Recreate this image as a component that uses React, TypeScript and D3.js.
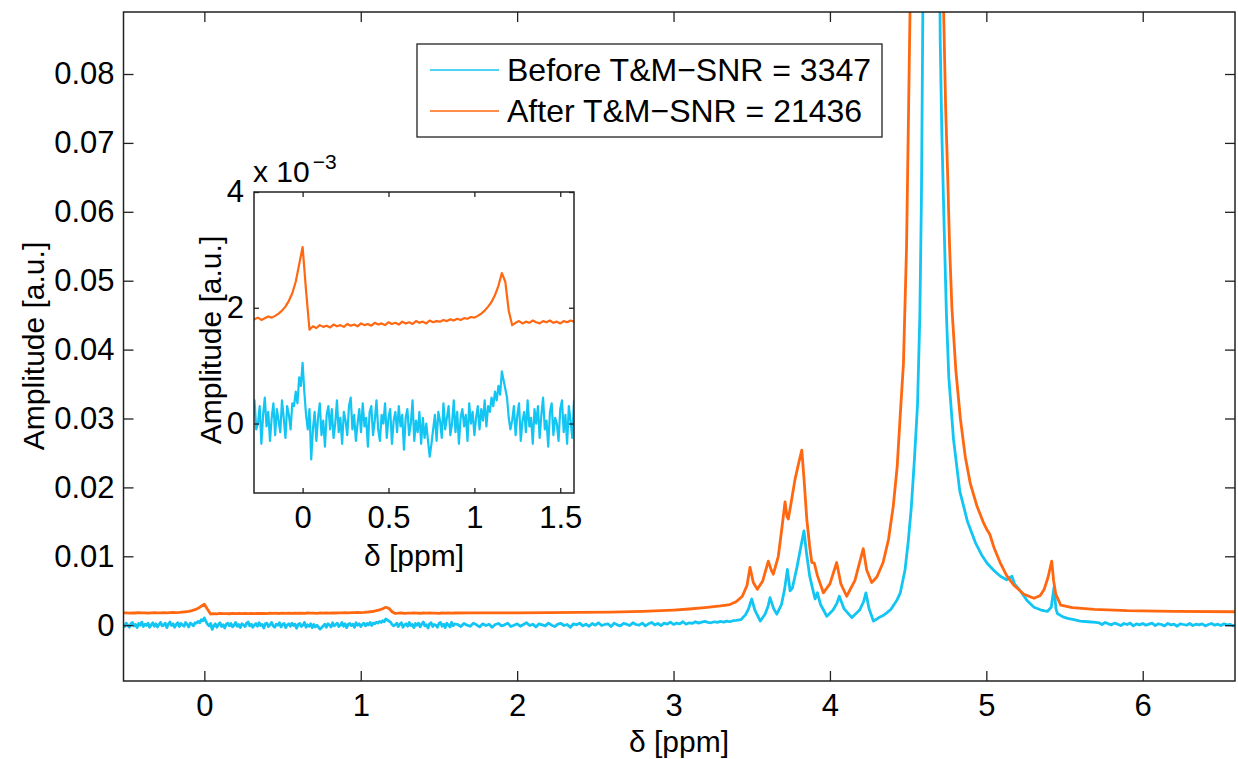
import React, { useEffect, useRef } from 'react'
import * as d3 from 'd3'

// spectra values are in units of 1e-3 a.u., x in ppm
const beforeLowStart = -0.52
const beforeLowStep = 0.01
const beforeLow = [
  0.1, -0.2, 0.3, 0.0, -0.3, 0.2, 0.4, -0.1, 0.1, -0.35, 0.25, 0.0, 0.45, -0.2, 0.15, -0.05,
  0.3, -0.3, 0.05, 0.35, -0.15, 0.2, -0.25, 0.1, 0.4, -0.1, 0.0, 0.3, -0.35, 0.15, 0.45, -0.05,
  0.2, -0.3, 0.1, 0.35, -0.2, 0.25, 0.05, -0.15, 0.4, 0.1, -0.25, 0.3, 0.15, -0.1, 0.35,
  0.3, 0.55, 0.35, 0.8, 0.65, 1.05,
  0.55, 0.15, -0.1, 0.25, -0.62, -0.1,
  0.2, -0.3, 0.1, 0.35, -0.2, 0.05, -0.4, 0.15, 0.3, -0.1,
  0.25, -0.25, 0.0, 0.4, -0.15, 0.1, -0.35, 0.2, 0.05, -0.2,
  0.3, 0.45, -0.1, 0.15, -0.3, 0.0, 0.25, -0.15, 0.35, -0.05,
  0.1, -0.4, 0.2, 0.3, -0.2, 0.05, 0.4, -0.1, -0.3, 0.15,
  0.0, 0.35, -0.25, 0.1, 0.25, -0.35, 0.05, 0.2, -0.15, 0.3,
  -0.05, 0.15, -0.45, 0.1, 0.25, -0.2, 0.0, 0.4, -0.3, 0.05,
  -0.15, 0.2, -0.35, 0.1, -0.25, 0.0, -0.3,
  -0.57,
  -0.35, -0.1, 0.15, -0.3, 0.2, 0.05, -0.25, 0.35, -0.1, 0.1,
  0.3, -0.2, 0.0, 0.4, -0.15, 0.2, -0.35, 0.1, 0.25, -0.05,
  0.15, -0.3, 0.35, 0.0, 0.2, -0.2, 0.1, 0.3, -0.1, 0.25,
  0.05, 0.4, -0.05, 0.3,
  0.2, 0.45, 0.3, 0.55, 0.4, 0.65, 0.5, 0.9, 0.75,
  0.6, 0.45, 0.1, -0.1, 0.05,
  0.3, -0.2, 0.15, 0.35, -0.3, 0.05, 0.2, -0.15, 0.4, -0.05,
  0.1, -0.35, 0.25, 0.0, 0.3, -0.25, 0.15, 0.45, -0.1, 0.05,
  -0.4, 0.2, 0.35, -0.2, 0.1, 0.0, -0.3, 0.25, 0.4, -0.15,
  0.15, -0.35, 0.3, 0.05, -0.25, 0.4, -0.1, 0.2,
]

const beforeMidStart = 1.62
const beforeMidStep = 0.02
const beforeMid = [
  0.1, -0.2, 0.25, 0.0, -0.15, 0.3, 0.05, -0.25, 0.2, -0.05,
  0.15, -0.3, 0.1, 0.25, -0.1, 0.05, 0.3, -0.2, 0.0, 0.2,
  -0.15, 0.1, 0.35, -0.05, 0.15, -0.25, 0.2, 0.05, -0.1, 0.3,
  0.0, -0.2, 0.15, 0.25, -0.05, 0.1, -0.3, 0.2, 0.05, 0.3,
  -0.1, 0.15, -0.15, 0.25, 0.0, 0.35, -0.05, 0.1, 0.2, -0.2,
  0.3, 0.05, -0.1, 0.25, 0.15, -0.05, 0.35, 0.1, 0.0, 0.3,
  -0.1, 0.2, 0.4, 0.05, 0.25, -0.05, 0.3, 0.15, 0.45, 0.1,
  0.3, 0.2, 0.5, 0.15, 0.35, 0.25, 0.5, 0.3, 0.45, 0.55,
  0.4, 0.35, 0.5, 0.4, 0.55, 0.45, 0.6, 0.5, 0.65, 0.7,
]

const beforePeaks = [
  [3.43, 0.8], [3.46, 1.5], [3.48, 2.4], [3.5, 3.8], [3.52, 2.2], [3.555, 0.6], [3.585, 1.6],
  [3.605, 2.8], [3.617, 4.0], [3.64, 2.4], [3.66, 1.6], [3.69, 3.0], [3.71, 5.2], [3.728, 8.1],
  [3.745, 5.0], [3.76, 5.4], [3.79, 8.5], [3.815, 11.5], [3.834, 13.7], [3.85, 10.5], [3.87, 7.2],
  [3.885, 5.7], [3.905, 3.8], [3.92, 4.7], [3.94, 3.0], [3.98, 1.3], [4.02, 2.2], [4.045, 3.2],
  [4.06, 4.2], [4.09, 2.4], [4.14, 1.1], [4.19, 2.2], [4.215, 3.4], [4.23, 4.7], [4.25, 2.4],
  [4.278, 0.6], [4.3, 0.9], [4.32, 1.2], [4.34, 1.4], [4.363, 1.8], [4.39, 2.3], [4.41, 3.0],
  [4.43, 3.7], [4.45, 4.7], [4.48, 8.0], [4.5, 12.0],
  [4.52, 17.0], [4.54, 24.0], [4.56, 32.0], [4.575, 45.0], [4.585, 62.0], [4.595, 92.0],
  [4.61, 160.0], [4.65, 220.0], [4.69, 160.0], [4.7, 100.0], [4.705, 85.0], [4.715, 72.0],
  [4.73, 58.0], [4.745, 45.0], [4.76, 36.0], [4.79, 27.0], [4.83, 19.5], [4.88, 15.0],
  [4.93, 12.0], [4.97, 10.2], [5.005, 9.0], [5.05, 7.9], [5.09, 7.1], [5.13, 6.6], [5.164, 7.1],
  [5.18, 6.0], [5.22, 4.9], [5.26, 3.6], [5.305, 2.6], [5.35, 2.2], [5.39, 2.0], [5.415, 2.6],
  [5.433, 5.5], [5.445, 2.4], [5.454, 1.7], [5.49, 1.2], [5.52, 1.0], [5.56, 0.8], [5.6, 0.6],
  [5.65, 0.5], [5.7, 0.4],
]

const beforeHighStart = 5.72
const beforeHighStep = 0.02
const beforeHigh = [
  0.35, 0.1, 0.4, 0.2, 0.05, 0.3, 0.15, -0.05, 0.25, 0.1,
  0.3, -0.1, 0.2, 0.05, 0.25, 0.0, 0.15, 0.3, -0.05, 0.2,
  0.1, -0.1, 0.25, 0.05, 0.15, -0.15, 0.2, 0.1, 0.0, 0.25,
  -0.05, 0.15, 0.05, 0.2, -0.1, 0.1, 0.25, 0.0, 0.15, -0.05,
  0.2, 0.05, 0.1, -0.1, 0.15,
]

const afterLowStart = -0.52
const afterLowStep = 0.02
const afterLow = [
  1.78, 1.8, 1.76, 1.79, 1.77, 1.81, 1.78, 1.8, 1.76, 1.79, 1.82, 1.78, 1.8, 1.83, 1.79, 1.82, 1.85, 1.83,
  1.86, 1.9, 1.95, 2.02, 2.12, 2.25, 2.45, 2.75, 3.05,
  2.3, 1.62,
  1.68, 1.65, 1.7, 1.67, 1.69, 1.66, 1.71, 1.68, 1.7, 1.67,
  1.72, 1.69, 1.71, 1.68, 1.73, 1.7, 1.72, 1.69, 1.74, 1.71,
  1.73, 1.7, 1.75, 1.72, 1.74, 1.71, 1.76, 1.73, 1.75, 1.72,
  1.77, 1.74, 1.76, 1.73, 1.78, 1.75, 1.77, 1.76, 1.79, 1.77,
  1.8, 1.78, 1.81, 1.79, 1.82, 1.81, 1.84, 1.83,
  1.86, 1.9, 1.95, 2.02, 2.1, 2.22, 2.38, 2.6,
  2.45, 1.95, 1.7,
  1.74, 1.77, 1.73, 1.76, 1.74, 1.78, 1.75, 1.73, 1.77, 1.75, 1.78, 1.74, 1.76, 1.73, 1.77, 1.75, 1.78, 1.76, 1.77,
]

const afterPeaks = [
  [1.7, 1.79], [1.8, 1.8], [2.0, 1.8], [2.2, 1.82], [2.4, 1.85], [2.6, 1.9], [2.8, 2.0], [3.0, 2.2],
  [3.1, 2.35], [3.2, 2.55], [3.3, 2.8], [3.36, 3.0], [3.4, 3.4], [3.44, 4.2], [3.47, 5.8],
  [3.489, 8.4], [3.51, 6.2], [3.536, 5.2], [3.57, 6.4], [3.606, 9.3], [3.625, 8.0], [3.638, 7.4],
  [3.67, 10.0], [3.695, 14.5], [3.713, 17.9], [3.725, 15.8], [3.734, 15.4], [3.755, 18.2],
  [3.777, 21.2], [3.8, 23.5], [3.82, 25.4], [3.835, 21.0], [3.852, 15.4], [3.87, 11.5],
  [3.884, 9.1], [3.9, 9.0], [3.92, 7.2], [3.958, 4.7], [4.0, 6.0], [4.043, 9.1], [4.07, 6.0],
  [4.107, 4.2], [4.16, 6.5], [4.213, 11.1], [4.235, 8.0], [4.267, 6.2], [4.3, 7.0], [4.34, 9.1],
  [4.375, 12.5], [4.405, 17.3], [4.43, 23.0], [4.448, 29.9], [4.47, 38.0], [4.49, 55.0],
  [4.512, 89.0], [4.54, 150.0], [4.6, 250.0], [4.68, 250.0], [4.7, 150.0], [4.727, 89.0],
  [4.74, 75.0], [4.753, 65.2], [4.765, 55.0], [4.78, 46.0], [4.805, 37.0], [4.834, 30.0],
  [4.865, 24.5], [4.898, 20.5], [4.94, 17.3], [4.983, 14.8], [5.005, 13.8], [5.022, 13.2],
  [5.05, 11.2], [5.09, 9.0], [5.13, 7.2], [5.176, 5.8], [5.24, 4.5], [5.305, 3.9], [5.345, 4.3],
  [5.37, 5.2], [5.395, 7.0], [5.418, 9.3], [5.43, 6.5], [5.444, 4.5], [5.476, 2.9], [5.55, 2.55],
  [5.69, 2.3], [5.9, 2.1], [6.2, 2.0], [6.6, 1.95],
]

const legendLabels = ['Before T\u0026M\u2212SNR = 3347', 'After T\u0026M\u2212SNR = 21436']
const seriesColors = ['#12c5f3', '#ff6810']

const xTicks = [0, 1, 2, 3, 4, 5, 6]
const yTicks = [0, 0.01, 0.02, 0.03, 0.04, 0.05, 0.06, 0.07, 0.08]
const insetXTicks = [0, 0.5, 1, 1.5]
const insetYTicks = [0, 2, 4]

function uniform(start: number, step: number, vals: number[]) {
  return vals.map((v, i) => [start + i * step, v * 1e-3] as [number, number])
}
function pairs(list: number[][]) {
  return list.map(([p, v]) => [p, v * 1e-3] as [number, number])
}

const beforeSeries = [
  ...uniform(beforeLowStart, beforeLowStep, beforeLow),
  ...uniform(beforeMidStart, beforeMidStep, beforeMid),
  ...pairs(beforePeaks),
  ...uniform(beforeHighStart, beforeHighStep, beforeHigh),
]
const afterSeries = [...uniform(afterLowStart, afterLowStep, afterLow), ...pairs(afterPeaks)]
const allSeries = [beforeSeries, afterSeries]

const FONT = '"Liberation Sans", Arial, sans-serif'

export default function App() {
  const ref = useRef<SVGSVGElement>(null)

  useEffect(() => {
    const svg = d3.select(ref.current)
    svg.selectAll('*').remove()

    const x = d3.scaleLinear().domain([-0.517, 6.59]).range([123.5, 1235])
    const y = d3.scaleLinear().domain([-0.0081, 0.089]).range([681, 12])

    const defs = svg.append('defs')
    defs.append('clipPath').attr('id', 'mainclip')
      .append('rect').attr('x', 123.5).attr('y', 12).attr('width', 1235 - 123.5).attr('height', 681 - 12)

    const line = d3.line<[number, number]>().x(d => x(d[0])).y(d => y(d[1]))
    const main = svg.append('g').attr('clip-path', 'url(#mainclip)')
    allSeries.forEach((s, i) => {
      main.append('path').attr('d', line(s)).attr('fill', 'none')
        .attr('stroke', seriesColors[i]).attr('stroke-width', 2.8).attr('stroke-linejoin', 'round')
    })

    // axes, MATLAB style box with inward ticks
    const fontSize = 31
    const gx = svg.append('g').attr('transform', 'translate(0,681)')
      .call(d3.axisBottom(x).tickValues(xTicks).tickSize(-10).tickPadding(13).tickFormat(d3.format('d')))
    svg.append('g').attr('transform', 'translate(0,12)')
      .call(d3.axisTop(x).tickValues(xTicks).tickSize(-10).tickFormat(() => ''))
    const gy = svg.append('g').attr('transform', 'translate(123.5,0)')
      .call(d3.axisLeft(y).tickValues(yTicks).tickSize(-10).tickPadding(9).tickFormat(d => d === 0 ? '0' : d3.format('.2f')(d as number)))
    svg.append('g').attr('transform', 'translate(1235,0)')
      .call(d3.axisRight(y).tickValues(yTicks).tickSize(-10).tickFormat(() => ''))
    svg.selectAll('.domain').remove()
    svg.selectAll('.tick line').attr('stroke', '#222').attr('stroke-width', 1.3)
    gx.selectAll('text').attr('font-size', fontSize).attr('font-family', FONT).attr('fill', '#000')
    gy.selectAll('text').attr('font-size', fontSize).attr('font-family', FONT).attr('fill', '#000')

    svg.append('rect').attr('x', 123.5).attr('y', 12).attr('width', 1235 - 123.5).attr('height', 681 - 12)
      .attr('fill', 'none').attr('stroke', '#222').attr('stroke-width', 1.5)

    svg.append('text').attr('x', 679).attr('y', 752).attr('text-anchor', 'middle')
      .attr('font-size', 30).attr('font-family', FONT).text('\u03b4 [ppm]')
    svg.append('text').attr('transform', 'translate(44,346) rotate(-90)').attr('text-anchor', 'middle')
      .attr('font-size', 30).attr('font-family', FONT).text('Amplitude [a.u.]')

    // legend
    const lg = svg.append('g')
    lg.append('rect').attr('x', 417).attr('y', 44).attr('width', 465).attr('height', 93)
      .attr('fill', '#fff').attr('stroke', '#222').attr('stroke-width', 1.3)
    legendLabels.forEach((label, i) => {
      const ly = 70 + i * 41
      lg.append('line').attr('x1', 430).attr('x2', 499).attr('y1', ly).attr('y2', ly)
        .attr('stroke', seriesColors[i]).attr('stroke-width', 1.6)
      lg.append('text').attr('x', 507).attr('y', ly + 11).attr('font-size', 32)
        .attr('font-family', FONT).text(label)
    })

    // inset
    const xi = d3.scaleLinear().domain([-0.283, 1.58]).range([254, 574])
    const yi = d3.scaleLinear().domain([-1.2e-3, 4e-3]).range([493, 192])
    defs.append('clipPath').attr('id', 'insetclip')
      .append('rect').attr('x', 254).attr('y', 192).attr('width', 320).attr('height', 301)
    svg.append('rect').attr('x', 254).attr('y', 192).attr('width', 320).attr('height', 301).attr('fill', '#fff')
    const lineI = d3.line<[number, number]>().x(d => xi(d[0])).y(d => yi(d[1]))
    const ins = svg.append('g').attr('clip-path', 'url(#insetclip)')
    allSeries.forEach((s, i) => {
      ins.append('path').attr('d', lineI(s)).attr('fill', 'none')
        .attr('stroke', seriesColors[i]).attr('stroke-width', 2.2).attr('stroke-linejoin', 'round')
    })
    const ix = svg.append('g').attr('transform', 'translate(0,493)')
      .call(d3.axisBottom(xi).tickValues(insetXTicks).tickSize(-5).tickPadding(13).tickFormat(d => String(d)))
    svg.append('g').attr('transform', 'translate(0,192)')
      .call(d3.axisTop(xi).tickValues(insetXTicks).tickSize(-5).tickFormat(() => ''))
    const iy = svg.append('g').attr('transform', 'translate(254,0)')
      .call(d3.axisLeft(yi).tickValues(insetYTicks.map(v => v * 1e-3)).tickSize(-5).tickPadding(10).tickFormat(d => String(Math.round((d as number) * 1e3))))
    svg.append('g').attr('transform', 'translate(574,0)')
      .call(d3.axisRight(yi).tickValues(insetYTicks.map(v => v * 1e-3)).tickSize(-5).tickFormat(() => ''))
    svg.selectAll('.domain').remove()
    svg.selectAll('.tick line').attr('stroke', '#222').attr('stroke-width', 1.3)
    ix.selectAll('text').attr('font-size', fontSize).attr('font-family', FONT).attr('fill', '#000')
    iy.selectAll('text').attr('font-size', fontSize).attr('font-family', FONT).attr('fill', '#000')
    svg.append('rect').attr('x', 254).attr('y', 192).attr('width', 320).attr('height', 301)
      .attr('fill', 'none').attr('stroke', '#222').attr('stroke-width', 1.5)

    svg.append('text').attr('x', 414).attr('y', 566).attr('text-anchor', 'middle')
      .attr('font-size', 30).attr('font-family', FONT).text('\u03b4 [ppm]')
    svg.append('text').attr('transform', 'translate(221,340) rotate(-90)').attr('text-anchor', 'middle')
      .attr('font-size', 30).attr('font-family', FONT).text('Amplitude [a.u.]')
    const exp = svg.append('text').attr('x', 253).attr('y', 182).attr('font-size', 30).attr('font-family', FONT)
    exp.append('tspan').text('x 10')
    exp.append('tspan').attr('dy', -13).attr('dx', 3).attr('font-size', 21).text('\u22123')
  }, [])

  return (
    <div style={{ position: 'absolute', left: 0, top: 0 }}>
      <svg ref={ref} width={1238} height={759} style={{ display: 'block', background: '#fff' }} />
    </div>
  )
}
